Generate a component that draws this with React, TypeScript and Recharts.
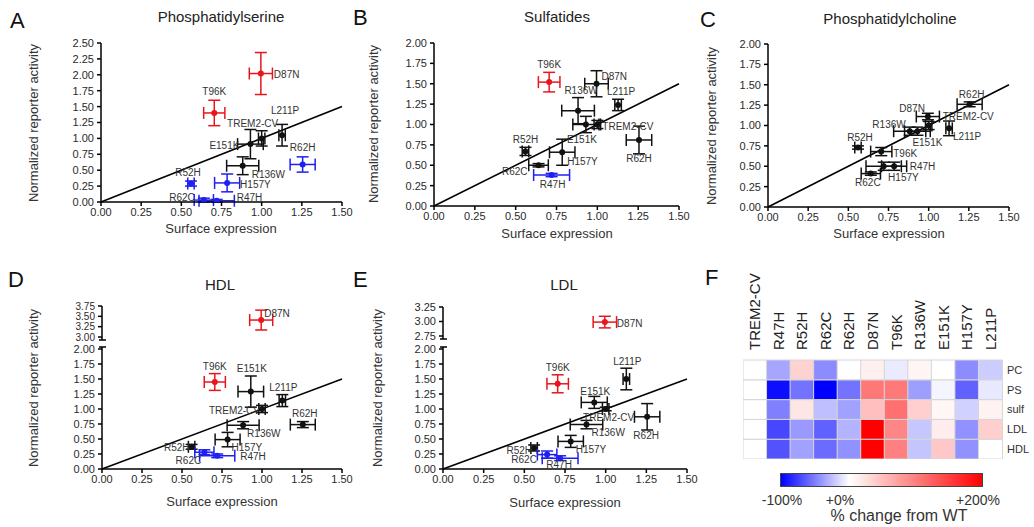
import React from 'react';
import { ScatterChart, Scatter, XAxis, YAxis, ErrorBar, ReferenceLine, BarChart, Bar, Cell } from 'recharts';

// ---------- data ----------
const variants = ['TREM2-CV', 'R47H', 'R52H', 'R62C', 'R62H', 'D87N', 'T96K', 'R136W', 'E151K', 'H157Y', 'L211P'];
const surfaceExpr = [1.0, 0.72, 0.56, 0.64, 1.255, 0.995, 0.705, 0.882, 0.93, 0.785, 1.127];
const surfaceExprErr = [0.02, 0.11, 0.02, 0.06, 0.078, 0.072, 0.066, 0.1, 0.08, 0.078, 0.02];

const psActivity = [1.0, 0.02, 0.29, 0.03, 0.59, 2.02, 1.4, 0.57, 0.91, 0.3, 1.05];
const psActivityErr = [0.12, 0.02, 0.04, 0.03, 0.12, 0.33, 0.2, 0.14, 0.23, 0.14, 0.17];
const psClass = ['ns', 'down', 'down', 'down', 'down', 'up', 'up', 'ns', 'ns', 'down', 'ns'];

const sulfActivity = [1.0, 0.38, 0.67, 0.5, 0.81, 1.5, 1.52, 1.17, 1.0, 0.66, 1.24];
const sulfActivityErr = [0.05, 0.02, 0.05, 0.02, 0.17, 0.16, 0.12, 0.16, 0.1, 0.16, 0.07];
const sulfClass = ['ns', 'down', 'ns', 'ns', 'ns', 'ns', 'up', 'ns', 'ns', 'ns', 'ns'];

const pcActivity = [1.0, 0.5, 0.73, 0.41, 1.26, 1.11, 0.68, 0.93, 0.93, 0.5, 0.965];
const pcActivityErr = [0.05, 0.05, 0.02, 0.02, 0.03, 0.04, 0.05, 0.05, 0.05, 0.05, 0.09];
const pcClass = ['ns', 'ns', 'ns', 'ns', 'ns', 'ns', 'ns', 'ns', 'ns', 'ns', 'ns'];

const hdlActivity = [1.0, 0.22, 0.37, 0.28, 0.74, 3.41, 1.45, 0.73, 1.29, 0.49, 1.14];
const hdlActivityErr = [0.06, 0.03, 0.04, 0.04, 0.05, 0.24, 0.14, 0.06, 0.26, 0.12, 0.1];
const hdlClass = ['ns', 'down', 'ns', 'down', 'ns', 'up', 'up', 'ns', 'ns', 'ns', 'ns'];

const ldlActivity = [1.0, 0.18, 0.35, 0.24, 0.87, 2.99, 1.42, 0.74, 1.11, 0.46, 1.5];
const ldlActivityErr = [0.03, 0.04, 0.05, 0.06, 0.22, 0.1, 0.15, 0.07, 0.1, 0.1, 0.18];
const ldlClass = ['ns', 'down', 'ns', 'down', 'ns', 'up', 'up', 'ns', 'ns', 'ns', 'ns'];

const xTicks = [0, 0.25, 0.5, 0.75, 1.0, 1.25, 1.5];
const yTicks25 = [0, 0.25, 0.5, 0.75, 1.0, 1.25, 1.5, 1.75, 2.0, 2.25, 2.5];
const yTicks20 = [0, 0.25, 0.5, 0.75, 1.0, 1.25, 1.5, 1.75, 2.0];
const hdlUpperTicks = [3.0, 3.25, 3.5, 3.75];
const ldlUpperTicks = [2.75, 3.0, 3.25];

// heatmap: % change from WT
const heatPC = [0, -35, 35, -45, 0, 12, -8, 8, 0, -45, -20];
const heatPS = [0, -95, -55, -100, -55, 106, 105, -38, -4, -62, -9];
const heatSulf = [0, -50, 20, -25, -37, 50, 112, 38, 7, -18, 10];
const heatLDL = [0, -72, -40, -62, -30, 200, 95, -22, 15, -43, 38];
const heatHDL = [0, -68, -37, -58, -43, 200, 100, -23, 44, -43, 0];
const colorbarTicks = ['-100%', '+0%', '+200%'];

// ---------- label placement (dx, dy, anchor) ----------
type LP = Record<string, [number, number, string]>;
const psLabels: LP = {
  'TREM2-CV': [-9, -15, 'middle'], R47H: [20, -3, 'start'], R52H: [-3, -11, 'middle'], R62C: [-9, -3, 'end'],
  R62H: [0, -17, 'middle'], D87N: [13, 1, 'start'], T96K: [0, -21, 'middle'], R136W: [9, 9, 'start'],
  E151K: [-11, 1, 'end'], H157Y: [13, 2, 'start'], L211P: [3, -25, 'middle'],
};
const sulfLabels: LP = {
  'TREM2-CV': [5, 2, 'start'], R47H: [1, 9, 'middle'], R52H: [0, -12, 'middle'], R62C: [-11, 6, 'end'],
  R62H: [0, 19, 'middle'], D87N: [5, -7, 'start'], T96K: [0, -18, 'middle'], R136W: [3, -20, 'middle'],
  E151K: [-4, 15, 'middle'], H157Y: [5, 9, 'start'], L211P: [3, -13, 'middle'],
};
const pcLabels: LP = {
  'TREM2-CV': [14, -9, 'start'], R47H: [26, 0, 'start'], R52H: [2, -10, 'middle'], R62C: [-3, 9, 'middle'],
  R62H: [2, -10, 'middle'], D87N: [-3, -8, 'end'], T96K: [12, 2, 'start'], R136W: [-4, -7, 'end'],
  E151K: [10, 11, 'middle'], H157Y: [-6, 11, 'start'], L211P: [4, 8, 'start'],
};
const hdlLabels: LP = {
  'TREM2-CV': [-2, 1, 'end'], R47H: [23, 1, 'start'], R52H: [-2, 1, 'end'], R62C: [-16, 8, 'middle'],
  R62H: [2, -11, 'middle'], D87N: [3, -7, 'start'], T96K: [0, -16, 'middle'], R136W: [4, 8, 'start'],
  E151K: [1, -23, 'middle'], H157Y: [4, 8, 'start'], L211P: [1, -13, 'middle'],
};
const ldlLabels: LP = {
  'TREM2-CV': [3, 8, 'middle'], R47H: [-1, 6, 'middle'], R52H: [-2, 2, 'end'], R62C: [-23, 5, 'middle'],
  R62H: [-1, 19, 'middle'], D87N: [12, 1, 'start'], T96K: [0, -16, 'middle'], R136W: [5, 8, 'start'],
  E151K: [1, -11, 'middle'], H157Y: [5, 8, 'start'], L211P: [1, -18, 'middle'],
};

// ---------- style ----------
const FONT = '"Liberation Sans", Arial, Helvetica, sans-serif';
const classColor: Record<string, string> = { ns: '#111111', down: '#1f1ff0', up: '#e8161c' };
const TEXT = '#2a2a2a';

type Box = { l: number; t: number; r: number; b: number };

function ScatterPanel(props: {
  box: Box; yDomain: [number, number]; yTicks: number[]; yValues: number[]; yErrs: number[];
  classes: string[]; labels: LP; include: (y: number) => boolean; showX: boolean; diag: boolean; tickFont?: number;
}) {
  const { box, yDomain, yTicks, yValues, yErrs, classes, labels, include, showX, diag } = props;
  const AX = 50, PADT = 8, PADR = 16, XH = 30, PADB = 8;
  const w = box.r - box.l + AX + PADR;
  const h = box.b - box.t + PADT + (showX ? XH : PADB);
  const rows = variants
    .map((name, i) => ({ name, x: surfaceExpr[i], ex: surfaceExprErr[i], y: yValues[i], ey: yErrs[i], cls: classes[i] }))
    .filter((r) => include(r.y));
  const groups = ['ns', 'down', 'up'];
  const tickStyle = { fontSize: props.tickFont || 11, fill: TEXT, fontFamily: FONT };
  return (
    <div style={{ position: 'absolute', left: box.l - AX, top: box.t - PADT }}>
      <ScatterChart width={w} height={h} margin={{ top: PADT, right: PADR, bottom: showX ? 0 : PADB, left: 0 }}>
        <XAxis
          type="number" dataKey="x" domain={[0, 1.5]} ticks={xTicks} interval={0} hide={!showX} height={XH}
          tickFormatter={(v: number) => v.toFixed(2)} stroke="#000" strokeWidth={1.5}
          tick={tickStyle} tickSize={4} tickMargin={2} allowDataOverflow
        />
        <YAxis
          type="number" dataKey="y" domain={yDomain} ticks={yTicks} interval={0} width={AX}
          tickFormatter={(v: number) => v.toFixed(2)} stroke="#000" strokeWidth={1.5}
          tick={tickStyle} tickSize={4} tickMargin={3} allowDataOverflow
        />
        {diag && (
          <ReferenceLine segment={[{ x: 0, y: 0 }, { x: 1.5, y: 1.5 }]} stroke="#000" strokeWidth={1.6} />
        )}
        {groups.map((g) => (
          <Scatter
            key={g}
            data={rows.filter((r) => r.cls === g)}
            isAnimationActive={false}
            shape={(p: any) => {
              const lp = labels[p.payload.name] || [0, -10, 'middle'];
              return (
                <g>
                  <circle cx={p.cx} cy={p.cy} r={3} fill={classColor[g]} />
                  <text
                    x={p.cx + lp[0]} y={p.cy + lp[1]} textAnchor={lp[2] as any} dominantBaseline="central"
                    fontSize={10} fill="#333" fontFamily={FONT}
                  >
                    {p.payload.name}
                  </text>
                </g>
              );
            }}
          >
            <ErrorBar dataKey="ex" direction="x" width={6} stroke={classColor[g]} strokeWidth={1.5} />
            <ErrorBar dataKey="ey" direction="y" width={6} stroke={classColor[g]} strokeWidth={1.5} />
          </Scatter>
        ))}
      </ScatterChart>
    </div>
  );
}

function heatColor(v: number): string {
  if (v < 0) {
    const t = Math.min(1, -v / 100);
    const c = Math.round(255 * (1 - t));
    return `rgb(${c},${c},255)`;
  }
  const t = Math.min(1, v / 200);
  const c = Math.round(255 * (1 - t));
  return `rgb(255,${c},${c})`;
}

function Heatmap() {
  const rowsBottomUp = ['HDL', 'LDL', 'sulf', 'PS', 'PC'];
  const values: Record<string, number[]> = { PC: heatPC, PS: heatPS, sulf: heatSulf, LDL: heatLDL, HDL: heatHDL };
  const data = variants.map((c) => ({ col: c, HDL: 1, LDL: 1, sulf: 1, PS: 1, PC: 1 }));
  const XH = 110, YW = 35;
  const l = 743, t = 360, w = 259, h = 99;
  const ColTick = (p: any) => (
    <text
      transform={`translate(${p.x},${XH - 10}) rotate(-90)`} textAnchor="start" dominantBaseline="central"
      fontSize={15} fill="#222" fontFamily={FONT}
    >
      {p.payload.value}
    </text>
  );
  return (
    <div style={{ position: 'absolute', left: l, top: t - XH }}>
      <BarChart width={w + YW} height={h + XH} data={data} margin={{ top: 0, right: 0, bottom: 0, left: 0 }} barCategoryGap={0} barGap={0}>
        <XAxis dataKey="col" orientation="top" height={XH} interval={0} tickLine={false} axisLine={false} tick={<ColTick />} />
        <YAxis
          orientation="right" type="number" domain={[0, 5]} ticks={[0.5, 1.5, 2.5, 3.5, 4.5]} interval={0} width={YW}
          tickLine={false} axisLine={false} tickSize={3} tickMargin={2}
          tickFormatter={(v: number) => rowsBottomUp[Math.floor(v)]}
          tick={{ fontSize: 11, fill: '#333', fontFamily: FONT, textAnchor: 'start' }}
        />
        {rowsBottomUp.map((rname) => (
          <Bar key={rname} dataKey={rname} stackId="a" isAnimationActive={false} stroke="#d6d6d6" strokeWidth={1}>
            {values[rname].map((v, i) => (
              <Cell key={i} fill={heatColor(v)} />
            ))}
          </Bar>
        ))}
      </BarChart>
    </div>
  );
}

export default function App() {
  const letters: [string, number, number][] = [['A', 10, 28], ['B', 353, 25], ['C', 700, 27], ['D', 8, 287], ['E', 353, 287], ['F', 705, 285]];
  const titles: [string, number, number][] = [['Phosphatidylserine', 221, 22], ['Sulfatides', 557, 22], ['Phosphatidylcholine', 890, 24], ['HDL', 220, 290], ['LDL', 564, 290]];
  const yLabels: [number, number][] = [[33, 123], [373, 124], [711, 126], [33, 388], [377, 388]];
  const xLabels: [number, number][] = [[221, 233], [557, 238], [889, 238], [222, 506], [565, 507]];
  // axis-break marks (x of axis, bottom of upper segment, top of lower segment)
  const breaks: [number, number, number][] = [[102, 337, 349], [443, 336, 349]];
  return (
    <div style={{ position: 'absolute', left: 0, top: 0, width: 1034, height: 527, background: '#fff', fontFamily: FONT, overflow: 'hidden' }}>
      <ScatterPanel box={{ l: 101, t: 43, r: 342, b: 202 }} yDomain={[0, 2.5]} yTicks={yTicks25} yValues={psActivity} yErrs={psActivityErr} classes={psClass} labels={psLabels} include={() => true} showX diag />
      <ScatterPanel box={{ l: 434, t: 43, r: 679, b: 206 }} yDomain={[0, 2]} yTicks={yTicks20} yValues={sulfActivity} yErrs={sulfActivityErr} classes={sulfClass} labels={sulfLabels} include={() => true} showX diag />
      <ScatterPanel box={{ l: 768, t: 44, r: 1009, b: 207 }} yDomain={[0, 2]} yTicks={yTicks20} yValues={pcActivity} yErrs={pcActivityErr} classes={pcClass} labels={pcLabels} include={() => true} showX diag />

      <ScatterPanel box={{ l: 102, t: 306, r: 342, b: 337 }} yDomain={[3, 3.75]} yTicks={hdlUpperTicks} yValues={hdlActivity} yErrs={hdlActivityErr} classes={hdlClass} labels={hdlLabels} include={(y) => y > 2} showX={false} diag={false} tickFont={10} />
      <ScatterPanel box={{ l: 102, t: 349, r: 342, b: 469 }} yDomain={[0, 2]} yTicks={yTicks20} yValues={hdlActivity} yErrs={hdlActivityErr} classes={hdlClass} labels={hdlLabels} include={(y) => y <= 2} showX diag />

      <ScatterPanel box={{ l: 443, t: 307, r: 687, b: 336 }} yDomain={[2.75, 3.25]} yTicks={ldlUpperTicks} yValues={ldlActivity} yErrs={ldlActivityErr} classes={ldlClass} labels={ldlLabels} include={(y) => y > 2} showX={false} diag={false} />
      <ScatterPanel box={{ l: 443, t: 349, r: 687, b: 469 }} yDomain={[0, 2]} yTicks={yTicks20} yValues={ldlActivity} yErrs={ldlActivityErr} classes={ldlClass} labels={ldlLabels} include={(y) => y <= 2} showX diag />

      <Heatmap />

      <div style={{ position: 'absolute', left: 780, top: 473, width: 203, height: 14, boxSizing: 'border-box', border: '1px solid #444', background: 'linear-gradient(to right, #0000ff 0%, #ffffff 34%, #ff0000 100%)' }} />

      <svg width={1034} height={527} style={{ position: 'absolute', left: 0, top: 0, pointerEvents: 'none' }}>
        {breaks.map(([x, yb, yt], i) => (
          <g key={i} stroke="#000" strokeWidth={1.5}>
            <line x1={x} y1={yb} x2={x} y2={yb + 3} />
            <line x1={x - 3} y1={yb + 3} x2={x + 4} y2={yb + 3} />
            <line x1={x} y1={yt} x2={x} y2={yt - 2} />
            <line x1={x - 3} y1={yt - 2} x2={x + 4} y2={yt - 2} />
          </g>
        ))}
        {letters.map(([s, x, y]) => (
          <text key={s} x={x} y={y} fontSize={22} fill="#111" fontFamily={FONT}>{s}</text>
        ))}
        {titles.map(([s, x, y]) => (
          <text key={s} x={x} y={y} fontSize={15} fill="#222" textAnchor="middle" fontFamily={FONT}>{s}</text>
        ))}
        {yLabels.map(([x, y], i) => (
          <text key={i} transform={`translate(${x},${y}) rotate(-90)`} fontSize={13} fill="#333" textAnchor="middle" dominantBaseline="central" fontFamily={FONT}>
            Normalized reporter activity
          </text>
        ))}
        {xLabels.map(([x, y], i) => (
          <text key={i} x={x} y={y} fontSize={13} fill="#333" textAnchor="middle" fontFamily={FONT}>Surface expression</text>
        ))}
        <text x={782} y={505} fontSize={14} fill="#333" textAnchor="middle" fontFamily={FONT}>{colorbarTicks[0]}</text>
        <text x={840} y={505} fontSize={14} fill="#333" textAnchor="middle" fontFamily={FONT}>{colorbarTicks[1]}</text>
        <text x={978} y={505} fontSize={14} fill="#333" textAnchor="middle" fontFamily={FONT}>{colorbarTicks[2]}</text>
        <text x={899} y={521} fontSize={16} fill="#333" textAnchor="middle" fontFamily={FONT}>% change from WT</text>
      </svg>
    </div>
  );
}
